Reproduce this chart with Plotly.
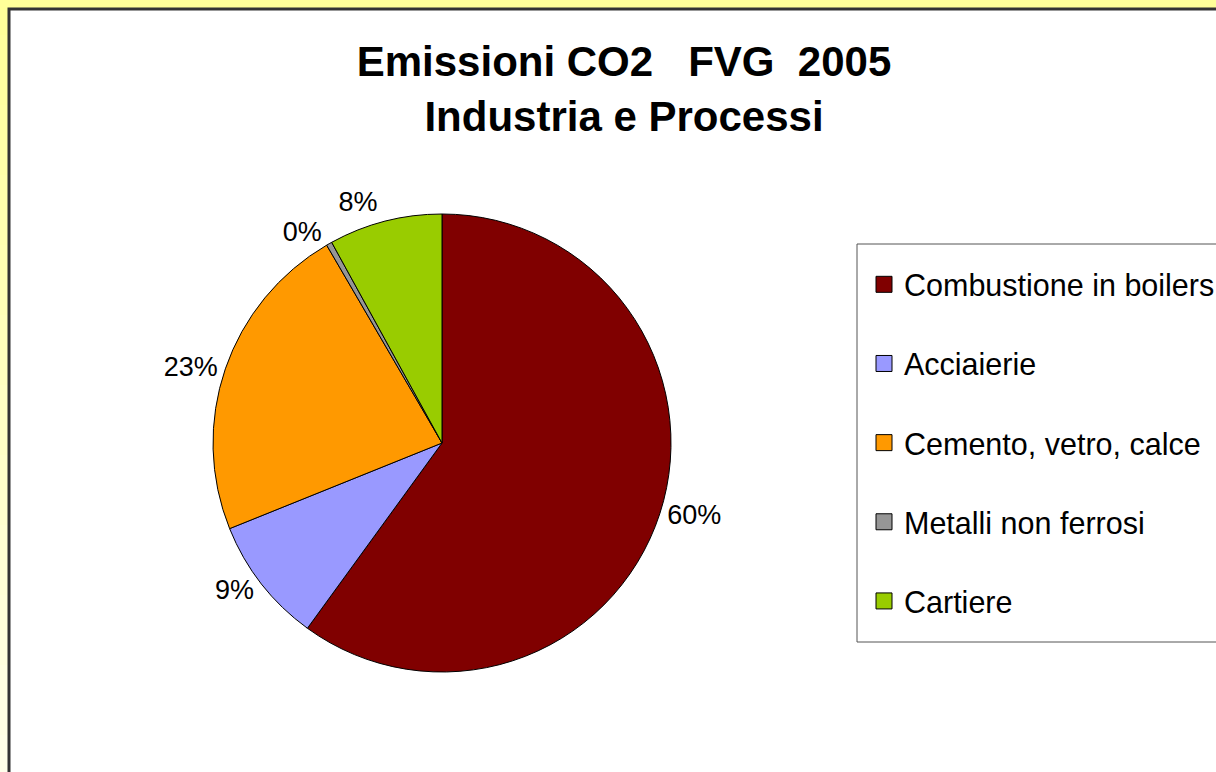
import plotly.graph_objects as go

# Emissioni CO2 FVG 2005 - Industria e Processi (quote %)
sectors = ["Combustione in boilers", "Acciaierie", "Cemento, vetro, calce",
           "Metalli non ferrosi", "Cartiere"]
shares = [60.0, 8.9, 22.7, 0.4, 8.0]
colors = ["#800000", "#9999FF", "#FF9900", "#969696", "#99CC00"]

title_text = "Emissioni CO2   FVG  2005<br>Industria e Processi"

# figure is a bit larger than the window: the chart frame runs off the right/bottom
W, H = 1280, 840
FONT = "Liberation Sans, Arial, sans-serif"


def fx(p):
    return p / W


def fy(p):
    return 1 - p / H


fig = go.Figure()

fig.add_trace(go.Pie(
    labels=sectors, values=shares,
    marker=dict(colors=colors, line=dict(color="black", width=1)),
    sort=False, direction="clockwise", rotation=0,
    textposition="outside", texttemplate="%{percent:.0%}",
    textfont=dict(family=FONT, size=27, color="black"),
    showlegend=False,
    domain=dict(x=[fx(213), fx(671)], y=[fy(672), fy(214)]),
))

# legend entries (square markers, wide spacing)
for name, col in zip(sectors, colors):
    fig.add_trace(go.Scatter(
        x=[None], y=[None], mode="markers", name=name, legendgroup=name,
        marker=dict(symbol="square", size=16, color=col,
                    line=dict(color="black", width=1)),
        hoverinfo="skip",
    ))

# yellow gradient background + white chart frame
shapes = []
top, bot = (255, 255, 153), (255, 255, 240)
n = 24
for i in range(n):
    t = i / (n - 1)
    c = tuple(round(a + (b - a) * t) for a, b in zip(top, bot))
    shapes.append(dict(type="rect", xref="paper", yref="paper", layer="below",
                       x0=0, x1=1, y0=fy(H * (i + 1) / n), y1=fy(H * i / n),
                       fillcolor="rgb(%d,%d,%d)" % c, line=dict(width=0)))
shapes.append(dict(type="rect", xref="paper", yref="paper", layer="below",
                   x0=fx(9), x1=fx(1272), y0=fy(832), y1=fy(9),
                   fillcolor="white", line=dict(color="#333333", width=3)))
# legend box
shapes.append(dict(type="rect", xref="paper", yref="paper", layer="below",
                   x0=fx(857), x1=fx(1262), y0=fy(642), y1=fy(244),
                   fillcolor="white", line=dict(color="#555555", width=1)))

fig.update_layout(
    width=W, height=H,
    margin=dict(l=0, r=0, t=0, b=0),
    paper_bgcolor="rgb(255,255,153)",
    plot_bgcolor="rgba(0,0,0,0)",
    xaxis=dict(visible=False), yaxis=dict(visible=False),
    shapes=shapes,
    title=dict(text=title_text, x=fx(624), xanchor="center", xref="paper",
               y=fy(76), yanchor="top", yref="paper",
               font=dict(family=FONT, size=42, color="black", weight="bold")),
    legend=dict(x=fx(864), xanchor="left", y=fy(258), yanchor="top",
                bgcolor="rgba(0,0,0,0)", borderwidth=0,
                font=dict(family=FONT, size=30.5, color="black"),
                tracegroupgap=36.5, traceorder="grouped"),
)

fig.write_html("out.html", config={"displayModeBar": False}, post_script=(
    "document.body.style.margin='0';"
    "document.body.style.overflow='hidden';"
    "document.documentElement.style.overflow='hidden';"
    "document.querySelectorAll('path.textline').forEach(function(e){e.remove();});"
))
